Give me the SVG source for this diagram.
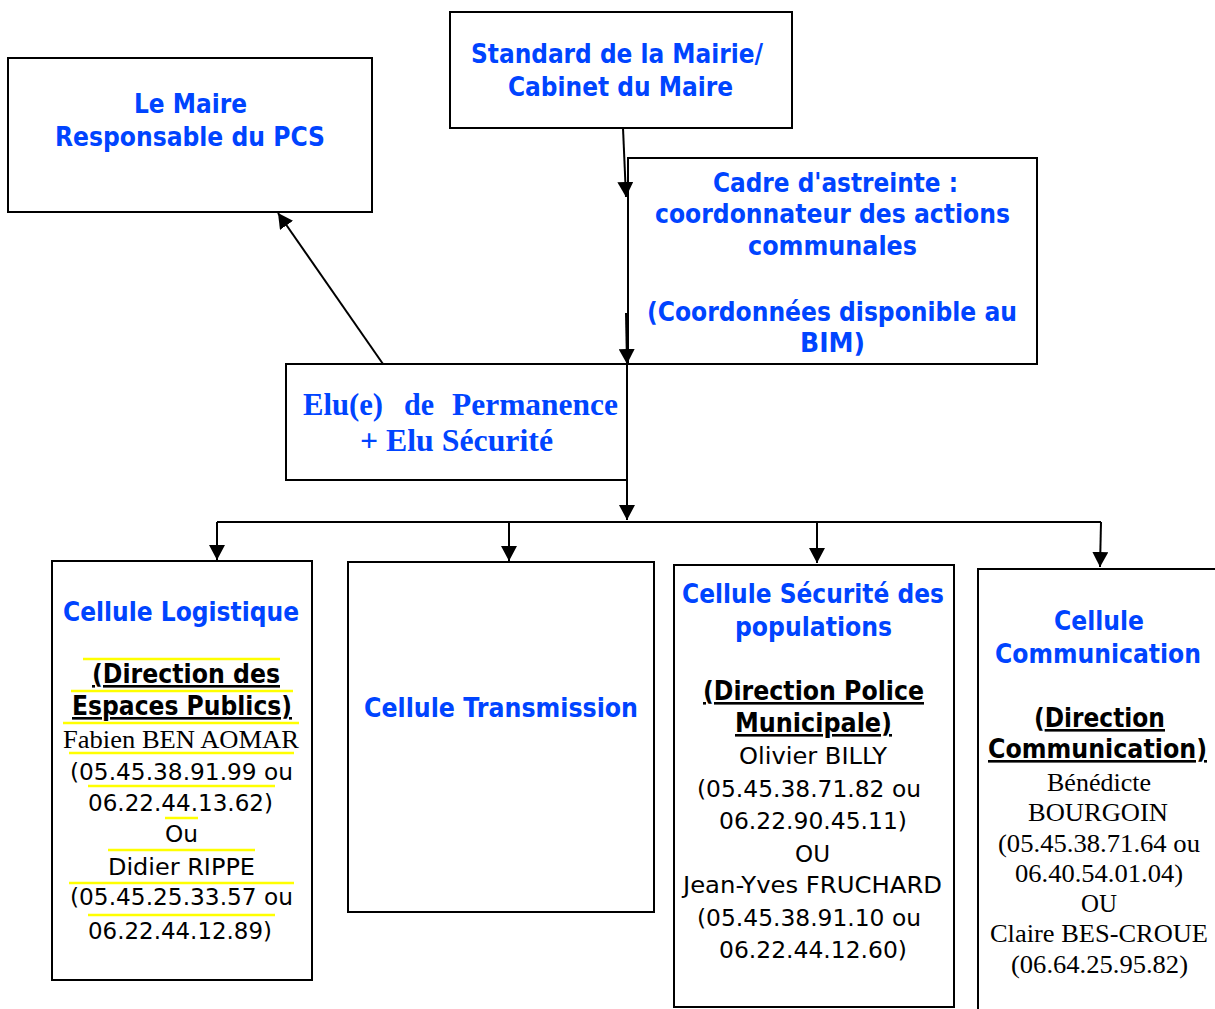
<svg xmlns="http://www.w3.org/2000/svg" width="1215" height="1009" viewBox="0 0 1215 1009">
<defs>
<marker id="arr" markerUnits="userSpaceOnUse" viewBox="0 0 15 16" markerWidth="15" markerHeight="16" refX="15" refY="8" orient="auto">
<path d="M0,0 L15,8 L0,16 z" fill="#000"/>
</marker>
<style>
.box{fill:#fff;stroke:#000;stroke-width:2}
.bt{font-family:"DejaVu Sans","Liberation Sans",sans-serif;font-weight:bold;font-size:26px;fill:#0044ff;text-anchor:middle}
.bk{font-family:"DejaVu Sans","Liberation Sans",sans-serif;font-weight:bold;font-size:26px;fill:#000;text-anchor:middle}
.rg{font-family:"DejaVu Sans","Liberation Sans",sans-serif;font-size:23.5px;fill:#000;text-anchor:middle}
.tm{font-family:"Liberation Serif","Times New Roman",serif;font-size:26px;fill:#000;text-anchor:middle}
.tb{font-family:"Liberation Serif","Times New Roman",serif;font-weight:bold;font-size:31px;fill:#0044ff}
.u{text-decoration:underline}
.conn line,.conn polyline{stroke:#000;stroke-width:2;fill:none}
.yl{stroke:#ffff00;stroke-width:2.5}
</style>
</defs>
<rect width="1215" height="1009" fill="#fff"/>

<g id="maire">
<rect class="box" x="8" y="58" width="364" height="154"/>
<text class="bt" x="190.5" y="113" textLength="113" lengthAdjust="spacingAndGlyphs">Le Maire</text>
<text class="bt" x="190" y="146" textLength="270" lengthAdjust="spacingAndGlyphs">Responsable du PCS</text>
</g>

<g id="standard">
<rect class="box" x="450" y="12" width="342" height="116"/>
<text class="bt" x="617" y="63" textLength="292" lengthAdjust="spacingAndGlyphs">Standard de la Mairie/</text>
<text class="bt" x="620.5" y="96" textLength="225" lengthAdjust="spacingAndGlyphs">Cabinet du Maire</text>
</g>

<g id="cadre">
<rect class="box" x="628" y="158" width="409" height="206"/>
<text class="bt" x="835.5" y="192" textLength="245" lengthAdjust="spacingAndGlyphs">Cadre d'astreinte :</text>
<text class="bt" x="832.5" y="223" textLength="355" lengthAdjust="spacingAndGlyphs">coordonnateur des actions</text>
<text class="bt" x="832.5" y="255" textLength="169" lengthAdjust="spacingAndGlyphs">communales</text>
<text class="bt" x="832" y="321" textLength="370" lengthAdjust="spacingAndGlyphs">(Coordonnées disponible au</text>
<text class="bt" x="832.5" y="352" textLength="65" lengthAdjust="spacingAndGlyphs">BIM)</text>
</g>

<g id="elu">
<rect class="box" x="286" y="364" width="341" height="116"/>
<text class="tb" y="415"><tspan x="303" textLength="80" lengthAdjust="spacingAndGlyphs">Elu(e)</tspan><tspan x="404" textLength="30" lengthAdjust="spacingAndGlyphs">de</tspan><tspan x="452" textLength="166" lengthAdjust="spacingAndGlyphs">Permanence</tspan></text>
<text class="tb" x="360" y="451" textLength="193" lengthAdjust="spacingAndGlyphs">+ Elu Sécurité</text>
</g>

<g id="logistique">
<rect class="box" x="52" y="561" width="260" height="419"/>
<line class="yl" x1="83" y1="659" x2="280" y2="659"/>
<line class="yl" x1="71" y1="691" x2="293" y2="691"/>
<line class="yl" x1="63" y1="723" x2="299" y2="723"/>
<line class="yl" x1="69" y1="753" x2="294" y2="753"/>
<line class="yl" x1="88" y1="786" x2="275" y2="786"/>
<line class="yl" x1="165" y1="818" x2="198" y2="818"/>
<line class="yl" x1="108" y1="850" x2="255" y2="850"/>
<line class="yl" x1="69" y1="883" x2="294" y2="883"/>
<line class="yl" x1="88" y1="915" x2="275" y2="915"/>
<text class="bt" x="181" y="621" textLength="236" lengthAdjust="spacingAndGlyphs">Cellule Logistique</text>
<text class="bk u" x="186" y="683" textLength="188" lengthAdjust="spacingAndGlyphs">(Direction des</text>
<text class="bk u" x="182" y="715" textLength="220" lengthAdjust="spacingAndGlyphs">Espaces Publics)</text>
<text class="tm" x="181" y="748" textLength="236" lengthAdjust="spacingAndGlyphs">Fabien BEN AOMAR</text>
<text class="rg" x="181.5" y="780" textLength="223" lengthAdjust="spacingAndGlyphs">(05.45.38.91.99 ou</text>
<text class="rg" x="180.5" y="811" textLength="185" lengthAdjust="spacingAndGlyphs">06.22.44.13.62)</text>
<text class="rg" x="181.5" y="842" textLength="33" lengthAdjust="spacingAndGlyphs">Ou</text>
<text class="rg" x="181.5" y="875" textLength="147" lengthAdjust="spacingAndGlyphs">Didier RIPPE</text>
<text class="rg" x="181.5" y="905" textLength="223" lengthAdjust="spacingAndGlyphs">(05.45.25.33.57 ou</text>
<text class="rg" x="180" y="939" textLength="184" lengthAdjust="spacingAndGlyphs">06.22.44.12.89)</text>
</g>

<g id="transmission">
<rect class="box" x="348" y="562" width="306" height="350"/>
<text class="bt" x="501" y="717" textLength="274" lengthAdjust="spacingAndGlyphs">Cellule Transmission</text>
</g>

<g id="securite">
<rect class="box" x="674" y="565" width="280" height="442"/>
<text class="bt" x="813" y="603" textLength="262" lengthAdjust="spacingAndGlyphs">Cellule Sécurité des</text>
<text class="bt" x="813.5" y="636" textLength="157" lengthAdjust="spacingAndGlyphs">populations</text>
<text class="bk u" x="813.5" y="700" textLength="221" lengthAdjust="spacingAndGlyphs">(Direction Police</text>
<text class="bk u" x="813.5" y="732" textLength="157" lengthAdjust="spacingAndGlyphs">Municipale)</text>
<text class="rg" x="813" y="764" textLength="148" lengthAdjust="spacingAndGlyphs">Olivier BILLY</text>
<text class="rg" x="809" y="797" textLength="224" lengthAdjust="spacingAndGlyphs">(05.45.38.71.82 ou</text>
<text class="rg" x="813" y="829" textLength="188" lengthAdjust="spacingAndGlyphs">06.22.90.45.11)</text>
<text class="rg" x="812.5" y="862" textLength="35" lengthAdjust="spacingAndGlyphs">OU</text>
<text class="rg" x="812.5" y="893" textLength="259" lengthAdjust="spacingAndGlyphs">Jean-Yves FRUCHARD</text>
<text class="rg" x="809" y="926" textLength="224" lengthAdjust="spacingAndGlyphs">(05.45.38.91.10 ou</text>
<text class="rg" x="813" y="958" textLength="188" lengthAdjust="spacingAndGlyphs">06.22.44.12.60)</text>
</g>

<g id="communication">
<rect class="box" x="978" y="569" width="260" height="460"/>
<text class="bt" x="1099" y="630" textLength="90" lengthAdjust="spacingAndGlyphs">Cellule</text>
<text class="bt" x="1098" y="663" textLength="206" lengthAdjust="spacingAndGlyphs">Communication</text>
<text class="bk" x="1099.5" y="727" textLength="131" lengthAdjust="spacingAndGlyphs">(<tspan class="u">Direction</tspan></text>
<text class="bk u" x="1097.5" y="758" textLength="219" lengthAdjust="spacingAndGlyphs">Communication)</text>
<text class="tm" x="1099" y="791" textLength="104" lengthAdjust="spacingAndGlyphs">Bénédicte</text>
<text class="tm" x="1098" y="821" textLength="140" lengthAdjust="spacingAndGlyphs">BOURGOIN</text>
<text class="tm" x="1099" y="852" textLength="202" lengthAdjust="spacingAndGlyphs">(05.45.38.71.64 ou</text>
<text class="tm" x="1099" y="882" textLength="168" lengthAdjust="spacingAndGlyphs">06.40.54.01.04)</text>
<text class="tm" x="1099" y="912" textLength="36" lengthAdjust="spacingAndGlyphs">OU</text>
<text class="tm" x="1099" y="942" textLength="218" lengthAdjust="spacingAndGlyphs">Claire BES-CROUE</text>
<text class="tm" x="1099.5" y="973" textLength="177" lengthAdjust="spacingAndGlyphs">(06.64.25.95.82)</text>
</g>

<g id="connectors" class="conn">
<line x1="383" y1="364" x2="278" y2="213" marker-end="url(#arr)"/>
<line x1="623" y1="128" x2="626" y2="197" marker-end="url(#arr)"/>
<line x1="626" y1="313" x2="627" y2="364" marker-end="url(#arr)"/>
<line x1="627" y1="480" x2="627" y2="520" marker-end="url(#arr)"/>
<polyline points="217,522 1101,522"/>
<line x1="217" y1="522" x2="217" y2="560" marker-end="url(#arr)"/>
<line x1="509" y1="522" x2="509" y2="561" marker-end="url(#arr)"/>
<line x1="817" y1="522" x2="817" y2="563" marker-end="url(#arr)"/>
<line x1="1101" y1="522" x2="1100" y2="567" marker-end="url(#arr)"/>
</g>
</svg>
